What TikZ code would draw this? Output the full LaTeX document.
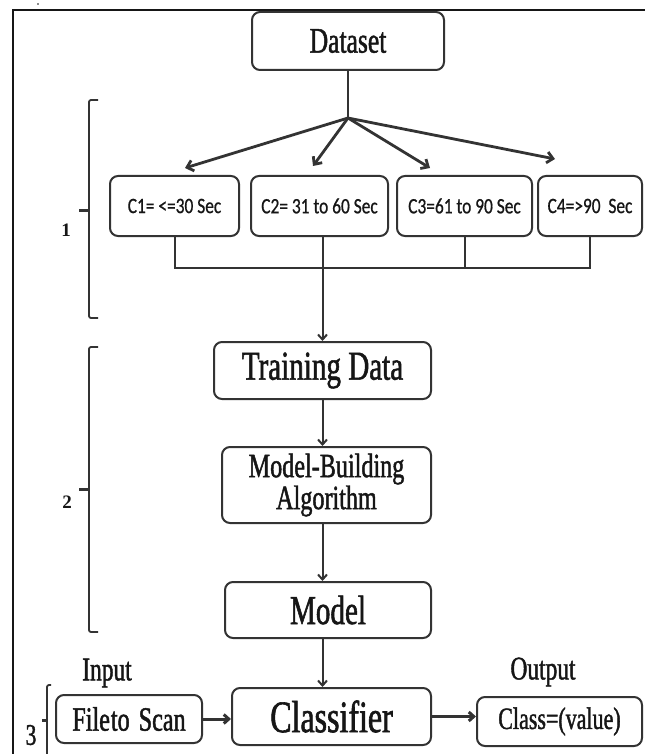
\documentclass[tikz,border=0pt]{standalone}
\usepackage{fontspec}
\setmainfont{Liberation Serif}
\newfontfamily\boxfont{Liberation Serif}[FakeStretch=0.71,FakeBold=1.3]
\newfontfamily\cfont{Carlito}[FakeStretch=0.79,FakeBold=0.7]
\usetikzlibrary{arrows.meta,positioning}
\newcommand{\fsz}[1]{\fontsize{#1}{#1}\selectfont}
\definecolor{ink}{HTML}{333333}
\definecolor{txt}{HTML}{161616}

\tikzset{
  box/.style={draw=ink,line width=2pt,rounded corners=8pt,fill=white,
    inner sep=0pt,align=center,text=txt},
  cbox/.style={box,minimum height=60pt,font=\cfont\fsz{22}},
  arr/.style={draw=ink,line width=2pt,-{Straight Barb[length=5pt,width=9pt]}},
  fan/.style={draw=ink,line width=2.8pt,-{Straight Barb[length=6pt,width=11pt]}},
  bus/.style={draw=ink,line width=2pt},
  brack/.style={draw=ink,line width=1.8pt,rounded corners=2pt},
  tick/.style={draw=ink,line width=3pt},
  lab/.style={inner sep=0pt,text=txt,font=\boxfont\fsz{33}},
}

\begin{document}
\begin{tikzpicture}[x=1pt,y=-1pt]
  \useasboundingbox (0,0) rectangle (645,754);
  % frame
  \draw[line width=2.2pt,txt] (13,754) -- (13,10) -- (645,10);
  \fill[txt] (38,4) circle (0.8);

  % boxes
  \node[box,minimum width=192pt,minimum height=58pt,font=\boxfont\fsz{36}] (data) at (348,41) {Dataset};
  \node[cbox,minimum width=129pt] (c1) at (174.5,206) {C1= <=30 Sec};
  \node[cbox,minimum width=137pt] (c2) at (319.5,206) {C2= 31 to 60 Sec};
  \node[cbox,minimum width=135pt] (c3) at (464.5,206) {C3=61 to 90 Sec};
  \node[cbox,minimum width=104pt] (c4) at (590,206) {C4=>90\ \ Sec};
  \node[box,minimum width=217pt,minimum height=57pt,font=\boxfont\fsz{41}] (train) at (322.5,370.5) {Training Data};
  \node[box,minimum width=209pt,minimum height=76pt,font=\boxfont\fontsize{34}{30}\selectfont] (mba) at (326.5,485) {Model-Building\\Algorithm};
  \node[box,minimum width=206pt,minimum height=56pt,font=\boxfont\fsz{41}] (model) at (328,610) {Model};
  \node[box,minimum width=199pt,minimum height=57pt,font=\boxfont\fsz{45}] (clf) at (331.5,716.5) {Classifier};
  \node[box,minimum width=146pt,minimum height=48pt,font=\boxfont\fsz{34}] (file) at (129,719) {File\kern1pt to\kern3pt\ Scan};
  \node[box,minimum width=165pt,minimum height=49pt,font=\boxfont\fsz{31}] (cls) at (559.5,721.5) {Class=(value)};

  \node[lab] (input) at (107,673) {Input};
  \node[lab] (output) at (543,672) {Output};

  % fan out
  \coordinate (fork) at (348,118);
  \coordinate (t1) at (185,168);
  \coordinate (t2) at (313,166);
  \coordinate (t3) at (430,168);
  \coordinate (t4) at (555,159);
  \draw[bus,line width=2.2pt] (data.south) -- (fork);
  \foreach \t in {t1,t2,t3,t4}
    \draw[fan] (fork) -- (\t);

  % collect
  \draw[bus] (c1.south) -- ++(0,31) coordinate (b1) -- (b1 -| c4.south) -- (c4.south);
  \draw[bus] (c3.south) -- (c3.south |- b1);
  \draw[arr] (c2.south -| train.north) -- (train.north);

  % chain
  \draw[arr] (train.south) -- (train.south |- mba.north);
  \draw[arr] (train.south |- mba.south) -- (train.south |- model.north);
  \draw[arr] (train.south |- model.south) -- (train.south |- clf.north);
  \draw[arr,line width=3pt] (file.east) -- (file.east -| clf.west);
  \draw[arr,line width=3pt] (clf.east) -- (clf.east -| cls.west);

  % brackets
  \draw[brack] (98,100) -- (89,100) -- (89,318) -- (98,318);
  \draw[tick] (89,210) -- (79,210);
  \node[inner sep=0pt,text=txt,font=\bfseries\fsz{19}] (n1) at (66,230) {1};
  \draw[brack] (98,347) -- (89,347) -- (89,632) -- (98,632);
  \draw[tick] (89,489) -- (79,489);
  \node[inner sep=0pt,text=txt,font=\bfseries\fsz{19}] (n2) at (67,502) {2};
  \draw[brack] (51,685) -- (47,685) -- (47,756);
  \draw[tick] (47,720) -- (42,720);
  \node[inner sep=0pt,text=txt,font=\boxfont\fsz{30}] (n3) at (31,735) {3};
\end{tikzpicture}
\end{document}
